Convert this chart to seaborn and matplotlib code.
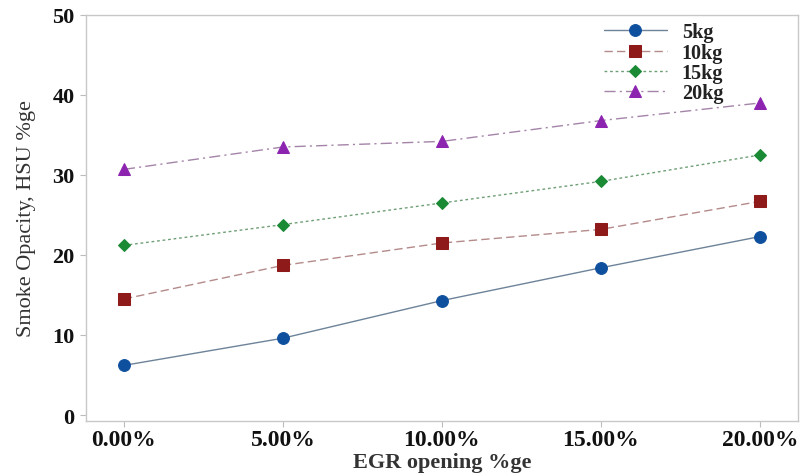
import numpy as np
import pandas as pd
import matplotlib
matplotlib.use("Agg")
import matplotlib.pyplot as plt
import seaborn as sns

# data
egr_opening = [0, 5, 10, 15, 20]
egr_labels = ["0.00%", "5.00%", "10.00%", "15.00%", "20.00%"]
load_names = ["5kg", "10kg", "15kg", "20kg"]
opacity_5kg = [6.2, 9.6, 14.3, 18.4, 22.3]
opacity_10kg = [14.5, 18.7, 21.5, 23.2, 26.7]
opacity_15kg = [21.2, 23.8, 26.5, 29.2, 32.5]
opacity_20kg = [30.7, 33.5, 34.2, 36.8, 39.0]

sns.set_theme(style="white")
plt.rcParams["font.family"] = ["Liberation Serif", "DejaVu Serif"]

fig = plt.figure(figsize=(8.02, 4.77), dpi=100)
ax = fig.add_axes([0.107, 0.1153, 0.888, 0.8512])

series = [opacity_5kg, opacity_10kg, opacity_15kg, opacity_20kg]
line_colors = ["#6d8399", "#b48a8a", "#6f9f76", "#a484a8"]
marker_colors = ["#0e4f9e", "#8e1a1a", "#1b8a35", "#8c24b0"]
markers = ["o", "s", "D", "^"]
marker_sizes = [8.5, 8, 6.5, 8.5]
styles = ["-", (0, (6, 3)), (0, (2, 2)), (0, (8, 3, 1.5, 3))]

for name, vals, lc, mc, mk, ms, ls in zip(load_names, series, line_colors,
                                          marker_colors, markers, marker_sizes, styles):
    df = pd.DataFrame({"egr": egr_opening, "opacity": vals})
    sns.lineplot(data=df, x="egr", y="opacity", ax=ax, color=lc, linewidth=1.0,
                 linestyle=ls, marker=mk, markersize=ms, markerfacecolor=mc,
                 markeredgecolor=mc, label=name)

ax.set_xlim(-1.2, 21.2)
ax.set_ylim(-0.75, 50)
ax.set_xticks(egr_opening)
ax.set_xticklabels(egr_labels, fontsize=17, fontweight="bold")
ax.set_yticks([0, 10, 20, 30, 40, 50])
ax.set_yticklabels(["0", "10", "20", "30", "40", "50"], fontsize=16, fontweight="bold")
ax.tick_params(axis="both", which="both", length=4, width=0.8, color="#bdbdbd",
               direction="out", bottom=True, left=True, labelcolor="#111111")
ax.tick_params(axis="x", pad=2)
ax.tick_params(axis="y", pad=4)
for s in ax.spines.values():
    s.set_color("#c8c8c8")
    s.set_linewidth(1.0)

ax.set_xlabel("EGR opening %ge", fontsize=16, fontweight="bold", color="#333333", labelpad=1)
ax.set_ylabel("Smoke Opacity, HSU %ge", fontsize=16, color="#333333", labelpad=12)

leg = ax.legend(loc="upper left", bbox_to_anchor=(0.711, 1.012), frameon=False,
                borderpad=0.1, handlelength=3.1, handletextpad=0.75, labelspacing=0.02,
                prop={"size": 14.5, "weight": "bold"})
for t in leg.get_texts():
    t.set_color("#222222")

fig.savefig("out.png", dpi=100)
